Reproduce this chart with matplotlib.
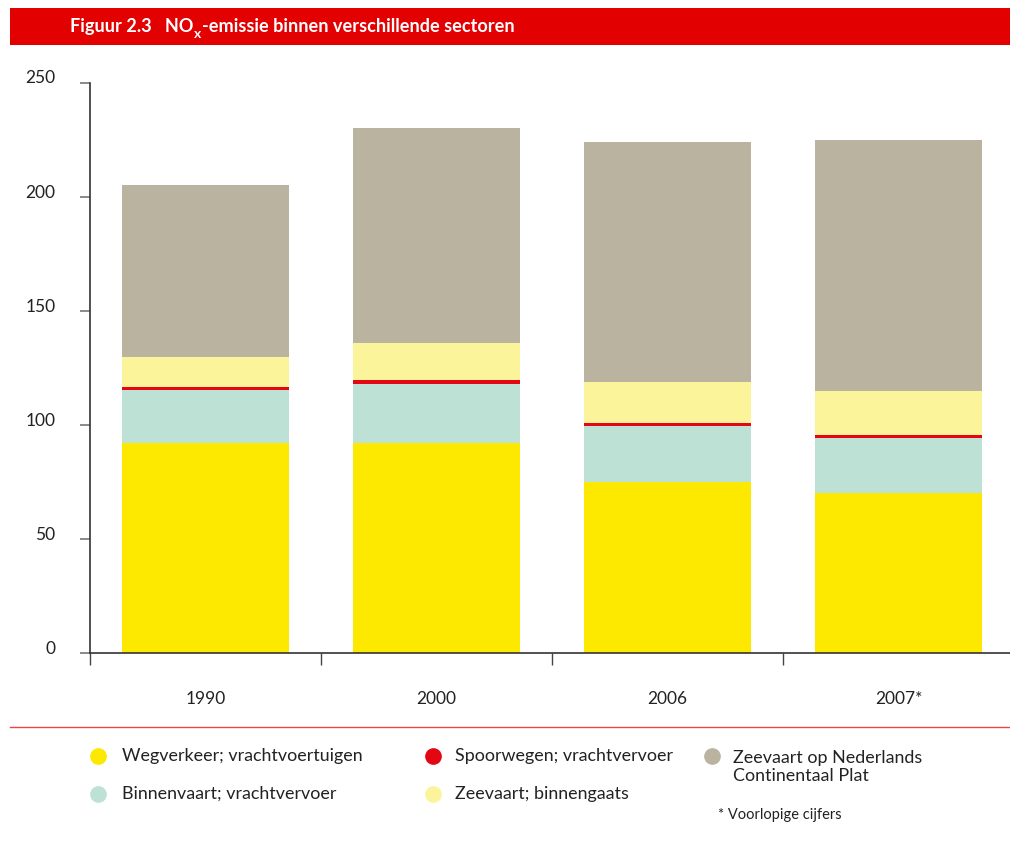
import matplotlib.pyplot as plt
import matplotlib.transforms as mtransforms
from matplotlib.lines import Line2D
from matplotlib.patches import Rectangle

plt.rcParams['font.family'] = ['Lato', 'DejaVu Sans']

years = ['1990', '2000', '2006', '2007*']
wegverkeer = [92.1, 92.1, 75.1, 70.2]
binnenvaart = [23.3, 25.9, 24.5, 24.1]
spoorwegen = [1.3, 1.7, 1.3, 1.3]
zeevaart_binnen = [13.1, 16.3, 17.8, 19.2]
zeevaart_ncp = [75.5, 94.3, 105.4, 110.2]

names = ['Wegverkeer; vrachtvoertuigen', 'Binnenvaart; vrachtvervoer',
         'Spoorwegen; vrachtvervoer', 'Zeevaart; binnengaats',
         'Zeevaart op Nederlands\nContinentaal Plat']
colors = ['#FDE800', '#BEE1D6', '#E30613', '#FCF49A', '#BAB3A0']
series = [wegverkeer, binnenvaart, spoorwegen, zeevaart_binnen, zeevaart_ncp]

W, H = 1010, 844
fig = plt.figure(figsize=(W / 100, H / 100), dpi=100)
ax = fig.add_axes([90 / W, (H - 653) / H, 924 / W, 570 / H])

x = list(range(len(years)))
bottom = [0] * len(years)
for vals, c in zip(series, colors):
    ax.bar(x, vals, 0.723, bottom=bottom, color=c, linewidth=0)
    bottom = [b + v for b, v in zip(bottom, vals)]

ax.set_xlim(-0.5, 3.5)
ax.set_ylim(0, 250)
for s in ['top', 'right']:
    ax.spines[s].set_visible(False)
for s in ['left', 'bottom']:
    ax.spines[s].set_color('#333333')
    ax.spines[s].set_linewidth(1.2)

ax.set_xticks([-0.5, 0.5, 1.5, 2.5, 3.5])
ax.set_xticklabels([])
ax.set_xticks(x, minor=True)
ax.set_xticklabels(years, minor=True)
ax.tick_params(axis='x', which='major', direction='out', length=8.6, width=1, color='#444444')
ax.tick_params(axis='x', which='minor', length=0, pad=27, labelsize=12.5, labelcolor='#222222')

ax.set_yticks(range(0, 251, 50))
ax.tick_params(axis='y', direction='out', length=7, width=1.2, color='#777777',
               pad=18, labelsize=12.5, labelcolor='#222222')
offset = mtransforms.ScaledTranslation(0, 6 / 100, fig.dpi_scale_trans)
for lbl in ax.get_yticklabels():
    lbl.set_transform(lbl.get_transform() + offset)

# title bar
fig.add_artist(Rectangle((10 / W, 1 - 45 / H), 1000 / W, 37 / H,
                         transform=fig.transFigure, color='#E30000', lw=0))
t1 = fig.text(70 / W, 1 - 32 / H, 'Figuur 2.3   NO', color='white',
              fontsize=13.1, fontweight='bold', va='baseline')
sub = fig.add_artist(plt.Annotation('x', xy=(1, 0), xycoords=t1, xytext=(0.5, -3.5),
                                    textcoords='offset points', color='white',
                                    fontsize=10, fontweight='bold', va='bottom', ha='left'))
fig.add_artist(plt.Annotation('-emissie binnen verschillende sectoren', xy=(1, 0),
                              xycoords=(sub, t1), xytext=(0.5, 0), textcoords='offset points',
                              color='white', fontsize=13.1, fontweight='bold',
                              va='bottom', ha='left'))

# separator line
fig.add_artist(Line2D([10 / W, 1], [1 - 727 / H] * 2, transform=fig.transFigure,
                      color='#EE4444', lw=1))

# legend
mx = [98, 98, 433, 433, 712]
tx = [122, 122, 455, 455, 733]
ty = [756, 794, 756, 794, 756]
for name, c, m, t, y in zip(names, colors, mx, tx, ty):
    fig.add_artist(Line2D([m / W], [1 - y / H], transform=fig.transFigure,
                          marker='o', markersize=11, color=c, lw=0))
    if '\n' in name:
        fig.text(t / W, 1 - (y - 6) / H, name, fontsize=12.9, color='#222222',
                 va='top', linespacing=1.12)
    else:
        fig.text(t / W, 1 - y / H, name, fontsize=12.9, color='#222222', va='center')

fig.text(718 / W, 1 - 815 / H, '* Voorlopige cijfers', fontsize=10.5,
         color='#222222', va='center')

fig.savefig('out.png', dpi=100)
